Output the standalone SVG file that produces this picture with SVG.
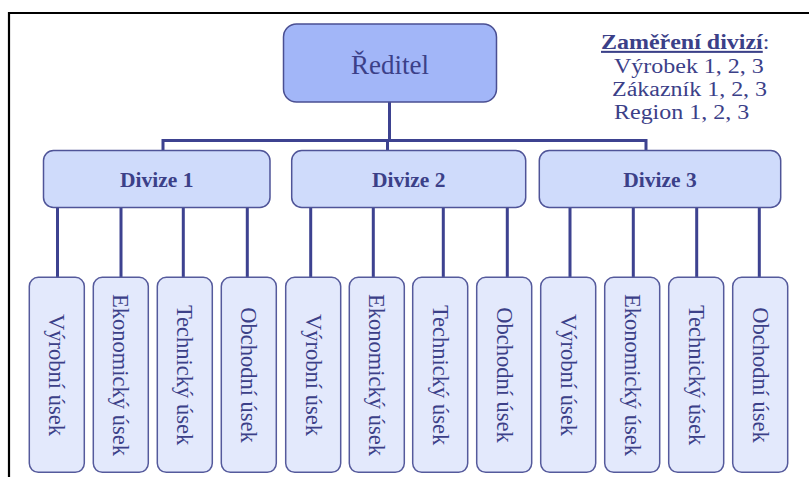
<svg xmlns="http://www.w3.org/2000/svg" width="809" height="477" viewBox="0 0 809 477">
<style>
  .t { font-family: "Liberation Serif", "Times New Roman", serif; fill: #3b4088; }
  .top { fill: #a2b6f8; stroke: #4a4f92; stroke-width: 1.5; }
  .div { fill: #cfdbfb; stroke: #4f5498; stroke-width: 1.5; }
  .sub { fill: #e3e9fc; stroke: #555a9c; stroke-width: 1.5; }
  .conn { fill: none; stroke: #3d4290; stroke-width: 3; }
  .dt { font-size: 21.5px; font-weight: bold; text-anchor: middle; }
  .st { font-size: 22.5px; text-anchor: middle; }
  .lg { font-size: 20.5px; }
</style>
<rect width="809" height="477" fill="#ffffff"/>
<path d="M9,477 V13 H809" fill="none" stroke="#000000" stroke-width="2.2"/>

<g id="connectors">
  <path class="conn" d="M389.5,102 V140.5"/>
  <path class="conn" d="M163,151 V140.5 H646 V151"/>
  <path class="conn" d="M387.5,140.5 V151"/>
  <path class="conn" d="M57.5,207 V277 M121,207 V277 M183.3,207 V277 M247.3,207 V277 M310.7,207 V277 M373.3,207 V277 M443.3,207 V277 M507.3,207 V277 M570,207 V277 M633.3,207 V277 M696.7,207 V277 M759.3,207 V277"/>
</g>

<g id="reditel">
  <rect class="top" x="283.5" y="24" width="213" height="78" rx="13"/>
  <text class="t" x="390" y="74" font-size="27" text-anchor="middle">Ředitel</text>
</g>

<g id="legend">
  <text class="t lg" transform="translate(601,49) scale(1.17,1)"><tspan font-weight="bold" text-decoration="underline">Zaměření divizí</tspan>:</text>
  <text class="t lg" transform="translate(614,73) scale(1.17,1)">Výrobek 1, 2, 3</text>
  <text class="t lg" transform="translate(612,96) scale(1.17,1)">Zákazník 1, 2, 3</text>
  <text class="t lg" transform="translate(614,119) scale(1.17,1)">Region 1, 2, 3</text>
</g>

<g id="divize1">
  <rect class="div" x="43.5" y="150.5" width="226.5" height="57" rx="10"/>
  <text class="t dt" x="156.7" y="187">Divize 1</text>
</g>
<g id="divize2">
  <rect class="div" x="291.7" y="150.5" width="234" height="57" rx="10"/>
  <text class="t dt" x="408.7" y="187">Divize 2</text>
</g>
<g id="divize3">
  <rect class="div" x="539.3" y="150.5" width="241.4" height="57" rx="10"/>
  <text class="t dt" x="660" y="187">Divize 3</text>
</g>

<g id="d1-vyrobni">
  <rect class="sub" x="29.3" y="277.3" width="55" height="195" rx="9"/>
  <text class="t st" transform="translate(49.3,375) rotate(90)">Výrobní úsek</text>
</g>
<g id="d1-ekonomicky">
  <rect class="sub" x="93.3" y="277.3" width="55" height="195" rx="9"/>
  <text class="t st" transform="translate(113.3,375) rotate(90)">Ekonomický úsek</text>
</g>
<g id="d1-technicky">
  <rect class="sub" x="157.3" y="277.3" width="55" height="195" rx="9"/>
  <text class="t st" transform="translate(177.3,375) rotate(90)">Technický úsek</text>
</g>
<g id="d1-obchodni">
  <rect class="sub" x="221.3" y="277.3" width="55" height="195" rx="9"/>
  <text class="t st" transform="translate(241.3,375) rotate(90)">Obchodní úsek</text>
</g>

<g id="d2-vyrobni">
  <rect class="sub" x="285.7" y="277.3" width="55" height="195" rx="9"/>
  <text class="t st" transform="translate(305.7,375) rotate(90)">Výrobní úsek</text>
</g>
<g id="d2-ekonomicky">
  <rect class="sub" x="349.3" y="277.3" width="55" height="195" rx="9"/>
  <text class="t st" transform="translate(369.3,375) rotate(90)">Ekonomický úsek</text>
</g>
<g id="d2-technicky">
  <rect class="sub" x="412.7" y="277.3" width="55" height="195" rx="9"/>
  <text class="t st" transform="translate(432.7,375) rotate(90)">Technický úsek</text>
</g>
<g id="d2-obchodni">
  <rect class="sub" x="476.7" y="277.3" width="55" height="195" rx="9"/>
  <text class="t st" transform="translate(496.7,375) rotate(90)">Obchodní úsek</text>
</g>

<g id="d3-vyrobni">
  <rect class="sub" x="540.7" y="277.3" width="55" height="195" rx="9"/>
  <text class="t st" transform="translate(560.7,375) rotate(90)">Výrobní úsek</text>
</g>
<g id="d3-ekonomicky">
  <rect class="sub" x="604.7" y="277.3" width="55" height="195" rx="9"/>
  <text class="t st" transform="translate(624.7,375) rotate(90)">Ekonomický úsek</text>
</g>
<g id="d3-technicky">
  <rect class="sub" x="668.7" y="277.3" width="55" height="195" rx="9"/>
  <text class="t st" transform="translate(688.7,375) rotate(90)">Technický úsek</text>
</g>
<g id="d3-obchodni">
  <rect class="sub" x="732.7" y="277.3" width="55" height="195" rx="9"/>
  <text class="t st" transform="translate(752.7,375) rotate(90)">Obchodní úsek</text>
</g>
</svg>
